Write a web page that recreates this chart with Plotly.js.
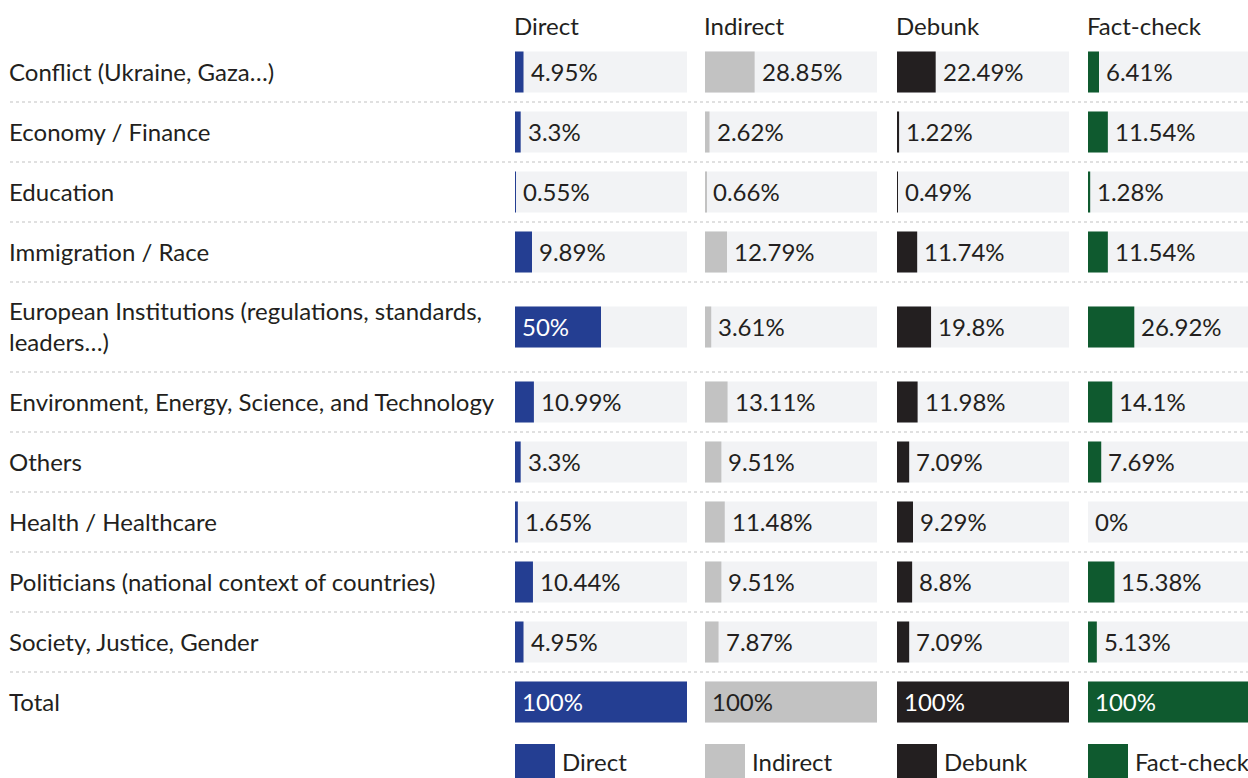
<!DOCTYPE html>
<html>
<head>
<meta charset="utf-8">
<script src="https://cdn.plot.ly/plotly-3.0.1.min.js"></script>
<style>
html,body{margin:0;padding:0;overflow:hidden;background:#fff;}
#chart{width:1260px;height:800px;}
</style>
</head>
<body>
<div id="chart"></div>
<script>
const categories = [
  "Conflict (Ukraine, Gaza…)",
  "Economy / Finance",
  "Education",
  "Immigration / Race",
  "European Institutions (regulations, standards,<br>leaders…)",
  "Environment, Energy, Science, and Technology",
  "Others",
  "Health / Healthcare",
  "Politicians (national context of countries)",
  "Society, Justice, Gender",
  "Total"
];
const seriesNames = ["Direct", "Indirect", "Debunk", "Fact-check"];
const direct    = [4.95, 3.3, 0.55, 9.89, 50, 10.99, 3.3, 1.65, 10.44, 4.95, 100];
const indirect  = [28.85, 2.62, 0.66, 12.79, 3.61, 13.11, 9.51, 11.48, 9.51, 7.87, 100];
const debunk    = [22.49, 1.22, 0.49, 11.74, 19.8, 11.98, 7.09, 9.29, 8.8, 7.09, 100];
const factcheck = [6.41, 11.54, 1.28, 11.54, 26.92, 14.1, 7.69, 0, 15.38, 5.13, 100];

const seriesValues = [direct, indirect, debunk, factcheck];
const colors = ["#243e92", "#c2c2c2", "#231f20", "#0f5a2f"];
const insideTextColors = ["#ffffff", "#231f20", "#ffffff", "#ffffff"];
const textColor = "#231f20";
const bgColor = "#f2f3f5";

const W = 1260, H = 800;
const colStarts = [515, 705, 897, 1088];
const colWidth = 172;
const FONT = "Lato, 'Open Sans', sans-serif";
const FS = 24;

// row layout (pixel-like units on a reversed y axis)
const firstTop = 42;
const rowCenters = [], boundaries = [];
let rowTop = firstTop;
categories.forEach(c => {
  const lines = c.split("<br>").length;
  const h = 30 + 30 * lines;
  rowCenters.push(rowTop + h / 2);
  rowTop += h;
  boundaries.push(rowTop);
});

const traces = [];
const annotations = [];
const shapes = [];
const layout = {
  width: W, height: H,
  margin: {l: 0, r: 0, t: 0, b: 0},
  paper_bgcolor: "#ffffff", plot_bgcolor: "#ffffff",
  barmode: "overlay",
  showlegend: false,
  font: {family: FONT, size: FS, color: textColor},
  yaxis: {range: [H, 0], visible: false, fixedrange: true}
};

seriesNames.forEach((name, i) => {
  const ax = i === 0 ? "x" : "x" + (i + 1);
  const axKey = i === 0 ? "xaxis" : "xaxis" + (i + 1);
  layout[axKey] = {
    domain: [colStarts[i] / W, (colStarts[i] + colWidth) / W],
    range: [0, 100], visible: false, fixedrange: true, anchor: "y"
  };
  traces.push({
    type: "bar", orientation: "h", xaxis: ax, yaxis: "y",
    x: categories.map(() => 100), y: rowCenters, width: 41,
    marker: {color: bgColor, line: {width: 0}}, hoverinfo: "skip"
  });
  traces.push({
    type: "bar", orientation: "h", xaxis: ax, yaxis: "y", name: name,
    x: seriesValues[i], y: rowCenters, width: 41,
    marker: {color: colors[i], line: {width: 0}},
    hovertemplate: name + ": %{x}%<extra></extra>"
  });
  // header
  annotations.push({
    xref: ax, yref: "y", x: 0, y: 26, xanchor: "left", yanchor: "middle",
    text: name, showarrow: false, xshift: -3, yshift: 1,
    font: {family: FONT, size: FS, color: textColor}
  });
  // value labels
  seriesValues[i].forEach((v, j) => {
    const inside = v >= 40;
    annotations.push({
      xref: ax, yref: "y", x: inside ? 0 : v, y: rowCenters[j],
      xanchor: "left", yanchor: "middle", showarrow: false,
      xshift: 5, yshift: 1, text: v + "%",
      font: {family: FONT, size: FS, color: inside ? insideTextColors[i] : textColor}
    });
  });
  // legend
  const legTop = boundaries[boundaries.length - 1] + 12;
  shapes.push({
    type: "rect", xref: ax + " domain", yref: "y",
    x0: 0, x1: 40 / colWidth, y0: legTop, y1: legTop + 40,
    fillcolor: colors[i], line: {width: 0}, layer: "above"
  });
  annotations.push({
    xref: ax + " domain", yref: "y", x: 40 / colWidth, y: legTop + 18,
    xanchor: "left", yanchor: "middle", showarrow: false, xshift: 5, yshift: 1,
    text: name, font: {family: FONT, size: FS, color: textColor}
  });
});

// category labels
categories.forEach((c, j) => {
  annotations.push({
    xref: "paper", yref: "y", x: 10 / W, y: rowCenters[j],
    xanchor: "left", yanchor: "middle", align: "left", showarrow: false,
    xshift: -3, yshift: 1,
    text: c, font: {family: FONT, size: FS, color: textColor}
  });
});

// dotted separators
boundaries.slice(0, -1).forEach(b => {
  shapes.push({
    type: "line", xref: "paper", yref: "y", x0: 10 / W, x1: 1, y0: b, y1: b,
    line: {color: "#d6d6d6", width: 1.5, dash: "dot"}, layer: "below"
  });
});

layout.annotations = annotations;
layout.shapes = shapes;

Plotly.newPlot("chart", traces, layout, {displayModeBar: false});
</script>
</body>
</html>
